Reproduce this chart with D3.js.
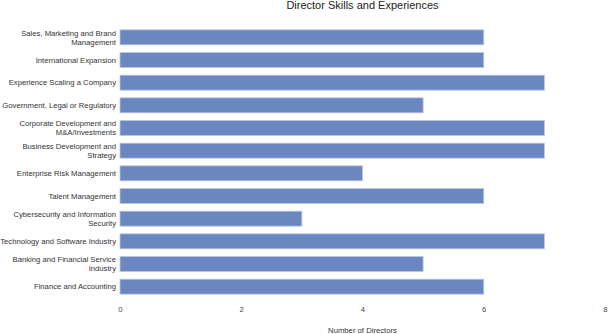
<!DOCTYPE html>
<html>
<head>
<meta charset="utf-8">
<script src="https://cdn.jsdelivr.net/npm/d3@7"></script>
<style>
  body { margin: 0; background: #fff; }
  svg { display: block; font-family: "Liberation Sans", Arial, sans-serif; }
</style>
</head>
<body>
<div id="chart"></div>
<script>
// Data
const categories = [
  ["Sales, Marketing and Brand", "Management"],
  ["International Expansion"],
  ["Experience Scaling a Company"],
  ["Government, Legal or Regulatory"],
  ["Corporate Development and", "M&A/Investments"],
  ["Business Development and", "Strategy"],
  ["Enterprise Risk Management"],
  ["Talent Management"],
  ["Cybersecurity and Information", "Security"],
  ["Technology and Software Industry"],
  ["Banking and Financial Service", "Industry"],
  ["Finance and Accounting"]
];
const directors = [6, 6, 7, 5, 7, 7, 4, 6, 3, 7, 5, 6];
const xTicks = [0, 2, 4, 6, 8];

const width = 608, height = 334;
const margin = { top: 26, right: 3, bottom: 36, left: 120 };

const svg = d3.select("#chart").append("svg")
  .attr("width", width)
  .attr("height", height);

const x = d3.scaleLinear()
  .domain([0, 8])
  .range([margin.left, width - margin.right]);

const y = d3.scaleBand()
  .domain(d3.range(categories.length))
  .range([margin.top, height - margin.bottom])
  .paddingInner(0.34)
  .paddingOuter(0.17);

// Title
svg.append("text")
  .attr("x", (margin.left + width - margin.right) / 2)
  .attr("y", 9)
  .attr("text-anchor", "middle")
  .attr("font-size", 11)
  .attr("fill", "#222")
  .text("Director Skills and Experiences");

// Bars
svg.append("g")
  .selectAll("rect")
  .data(directors)
  .join("rect")
    .attr("x", x(0))
    .attr("y", (d, i) => y(i))
    .attr("width", d => x(d) - x(0))
    .attr("height", y.bandwidth())
    .attr("fill", "#6a87c0")
    .attr("stroke", "#b9c7e2")
    .attr("stroke-width", 0.8);

// Category labels
const labels = svg.append("g")
  .attr("font-size", 7.7)
  .attr("fill", "#333")
  .attr("text-anchor", "end")
  .selectAll("text")
  .data(categories)
  .join("text")
    .attr("x", margin.left - 4)
    .attr("y", (d, i) => y(i) + y.bandwidth() / 2);

labels.each(function(lines) {
  const t = d3.select(this);
  const lh = 9;
  const start = -(lines.length - 1) * lh / 2;
  lines.forEach((line, j) => {
    t.append("tspan")
      .attr("x", margin.left - 4)
      .attr("dy", j === 0 ? start + 2.7 : lh)
      .text(line);
  });
});

// X axis
const xAxis = d3.axisBottom(x)
  .tickValues(xTicks)
  .tickSize(0)
  .tickPadding(0);

const ax = svg.append("g")
  .attr("transform", `translate(0, ${height - margin.bottom + 9})`)
  .call(xAxis);
ax.select(".domain").remove();
ax.selectAll("text")
  .attr("font-size", 7.7)
  .attr("fill", "#444")
  .attr("font-family", "Liberation Sans, Arial, sans-serif");

// Axis title
svg.append("text")
  .attr("x", (margin.left + width - margin.right) / 2)
  .attr("y", 333)
  .attr("text-anchor", "middle")
  .attr("font-size", 7.7)
  .attr("fill", "#333")
  .text("Number of Directors");
</script>
</body>
</html>
